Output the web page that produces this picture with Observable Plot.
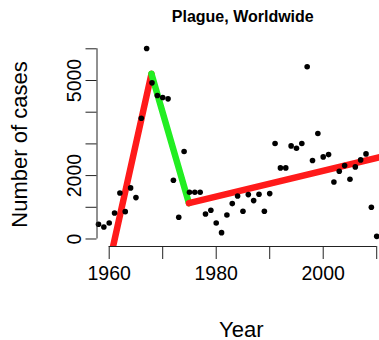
<!DOCTYPE html>
<html>
<head>
<meta charset="utf-8">
<script src="https://cdn.jsdelivr.net/npm/d3@7"></script>
<script src="https://cdn.jsdelivr.net/npm/@observablehq/plot@0.6"></script>
<style>
  html, body { margin: 0; padding: 0; background: white; }
</style>
</head>
<body>
<div id="chart"></div>
<script>
// Observed yearly cases
const years = d3.range(1958, 2011);
const cases = [463, 379, 505, 821, 1453, 863, 1611, 1305, 3811, 6011,
  4926, 4526, 4463, 4421, 1853, 684, 2758, 1474, 1474, 1474,
  789, 905, 505, 200, 758, 1116, 1358, 874, 1400, 1211,
  1411, 874, 1432, 3011, 2242, 2242, 2937, 2863, 3011, 5432,
  2474, 3326, 2589, 2663, 1800, 2137, 2316, 1884, 2274, 2495,
  2684, 1000, 84];

// Segmented fit: breakpoints and segment colours
const segYears = [1958, 1967.9, 1974.9, 2012];
const segValues = [-2300, 5210, 1130, 2640];
const segColors = ["#ff1a1a", "#22ee22", "#ff1a1a"];

// Axis ticks
const xTicks = [1960, 1970, 1980, 1990, 2000, 2010];
const xLabels = [1960, 1980, 2000];
const yTicks = [0, 1000, 2000, 3000, 4000, 5000, 6000];
const yLabels = [0, 2000, 5000];

const xDomain = [1957.72, 2010.52];
const yDomain = [-237, 6262];

const points = years.map((y, i) => ({year: y, cases: cases[i]}));
const segments = segColors.map((c, i) => ({
  x1: segYears[i], y1: segValues[i], x2: segYears[i + 1], y2: segValues[i + 1], color: c
}));

const font = "'Liberation Sans', Arial, Helvetica, sans-serif";

const chart = Plot.plot({
  width: 379,
  height: 340,
  marginLeft: 96.5,
  marginRight: 0,
  marginTop: 40,
  marginBottom: 94,
  style: {fontFamily: font, background: "white", color: "black", overflow: "visible"},
  x: {domain: xDomain},
  y: {domain: yDomain},
  marks: [
    Plot.link(segments, {
      x1: "x1", y1: "y1", x2: "x2", y2: "y2",
      stroke: d => d.color, strokeWidth: 6.5, strokeLinecap: "round", clip: true
    }),
    Plot.dot(points, {x: "year", y: "cases", r: 2.8, fill: "black", stroke: "none"}),
    Plot.ruleX([xDomain[0]], {y1: yTicks[0], y2: yTicks[yTicks.length - 1], stroke: "#222"}),
    Plot.ruleY([yDomain[0]], {x1: xTicks[0], x2: xTicks[xTicks.length - 1], stroke: "#222"}),
    Plot.axisX({
      ticks: xTicks, tickSize: 13, tickPadding: 7, fontSize: 19.5, label: null,
      stroke: "#222", tickFormat: d => xLabels.includes(d) ? String(d) : ""
    }),
    Plot.axisY({ticks: yTicks, tickSize: 11, label: null, stroke: "#222", tickFormat: () => ""}),
    Plot.text(yLabels, {
      y: d => d, text: d => String(d), frameAnchor: "left", dx: -16.5,
      rotate: -90, textAnchor: "middle", lineAnchor: "bottom", fontSize: 19.5, fill: "black"
    }),
    Plot.text(["Year"], {
      frameAnchor: "bottom", dx: 3, dy: 90, lineAnchor: "bottom", fontSize: 22, fill: "black"
    }),
    Plot.text(["Number of cases"], {
      frameAnchor: "left", dx: -70, dy: 1, rotate: -90, textAnchor: "middle",
      lineAnchor: "bottom", fontSize: 22, fill: "black"
    }),
    Plot.text(["Plague, Worldwide"], {
      frameAnchor: "top", dx: 4.5, dy: -18.5, lineAnchor: "bottom",
      fontSize: 16, fontWeight: "bold", fill: "black"
    })
  ]
});

document.getElementById("chart").appendChild(chart);
</script>
</body>
</html>
